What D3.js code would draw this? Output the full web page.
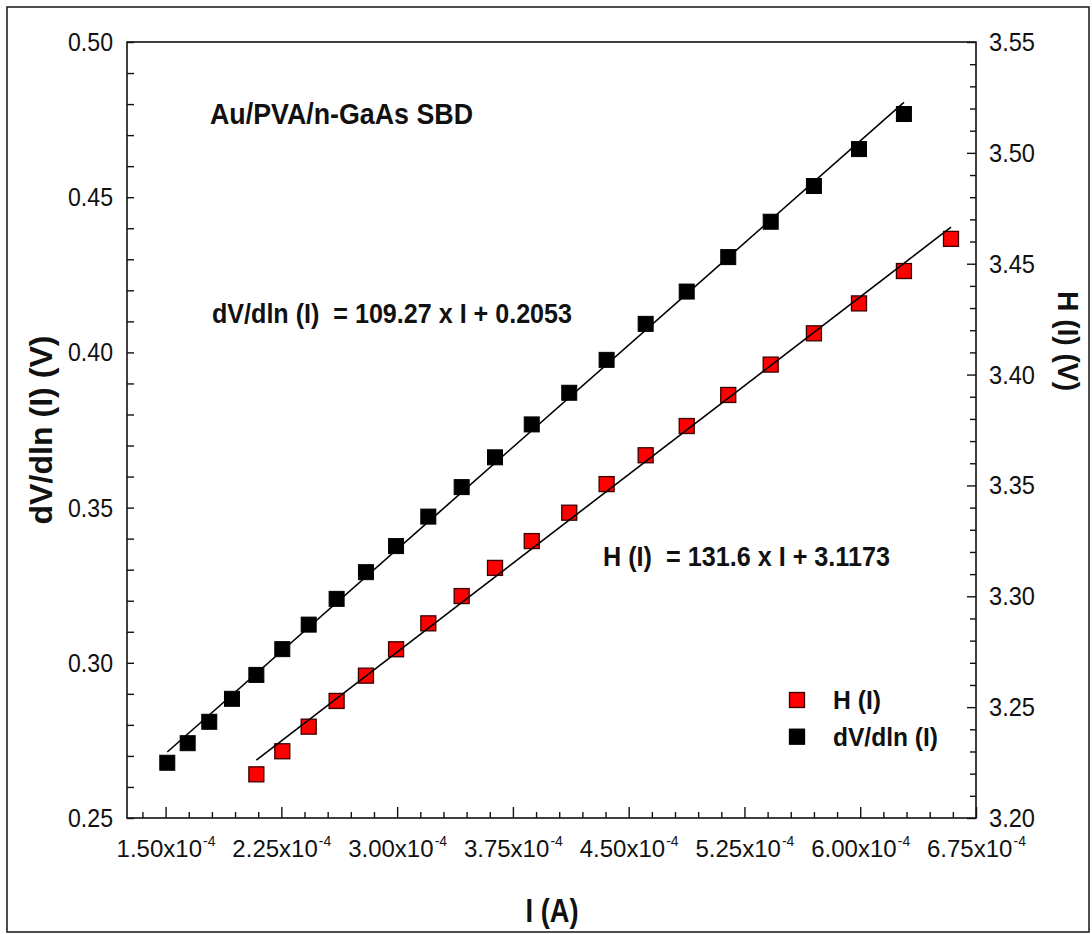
<!DOCTYPE html>
<html>
<head>
<meta charset="utf-8">
<script src="https://cdn.jsdelivr.net/npm/d3@7"></script>
<style>
  html, body { margin: 0; padding: 0; background: #fff; }
  svg { display: block; font-family: "Liberation Sans", Arial, Helvetica, sans-serif; }
  text { fill: #111; white-space: pre; }
</style>
</head>
<body>
<svg id="chart" width="1092" height="934"></svg>
<script>
// Current (A) and differential voltage dV/dln(I) (V), left axis
const currentDV = [1.511e-4, 1.643e-4, 1.783e-4, 1.930e-4, 2.088e-4, 2.256e-4, 2.427e-4, 2.608e-4,
  2.798e-4, 2.993e-4, 3.202e-4, 3.418e-4, 3.634e-4, 3.872e-4, 4.115e-4, 4.357e-4, 4.610e-4,
  4.876e-4, 5.145e-4, 5.420e-4, 5.700e-4, 5.992e-4, 6.283e-4];
const dVdlnI = [0.2678, 0.2741, 0.2810, 0.2884, 0.2961, 0.3044, 0.3123, 0.3206,
  0.3292, 0.3376, 0.3471, 0.3566, 0.3662, 0.3768, 0.3870, 0.3976, 0.4092,
  0.4196, 0.4307, 0.4421, 0.4536, 0.4655, 0.4768];

// Current (A) and Norde-type function H(I) (V), right axis
const currentH = [2.088e-4, 2.256e-4, 2.427e-4, 2.608e-4, 2.798e-4, 2.993e-4, 3.202e-4, 3.418e-4,
  3.634e-4, 3.872e-4, 4.115e-4, 4.357e-4, 4.610e-4, 4.876e-4, 5.145e-4, 5.420e-4,
  5.700e-4, 5.992e-4, 6.283e-4, 6.588e-4];
const hI = [3.2197, 3.2301, 3.2412, 3.2528, 3.2642, 3.2761, 3.2878, 3.3001,
  3.3128, 3.3249, 3.3377, 3.3506, 3.3636, 3.3768, 3.3908, 3.4045,
  3.4186, 3.4321, 3.4467, 3.4612];

// Tick values and labels
const xMajorTicks = [1.50e-4, 2.25e-4, 3.00e-4, 3.75e-4, 4.50e-4, 5.25e-4, 6.00e-4, 6.75e-4];
const xTickMantissas = ["1.50", "2.25", "3.00", "3.75", "4.50", "5.25", "6.00", "6.75"];
const xTickExponent = "-4";
const leftTicks = [0.25, 0.30, 0.35, 0.40, 0.45, 0.50];
const leftTickLabels = ["0.25", "0.30", "0.35", "0.40", "0.45", "0.50"];
const rightTicks = [3.20, 3.25, 3.30, 3.35, 3.40, 3.45, 3.50, 3.55];
const rightTickLabels = ["3.20", "3.25", "3.30", "3.35", "3.40", "3.45", "3.50", "3.55"];

// Text
const titleText = "Au/PVA/n-GaAs SBD";
const fitLabelDV = "dV/dln (I)  = 109.27 x I + 0.2053";
const fitLabelH = "H (I)  = 131.6 x I + 3.1173";
const legendLabels = ["H (I)", "dV/dln (I)"];
const xTitle = "I (A)";
const yLeftTitle = "dV/dln (I) (V)";
const yRightTitle = "H (I) (V)";

// ---- layout ----
const plot = { left: 127, right: 976, top: 42, bottom: 818 };
const svg = d3.select("#chart");
const ink = "#111";

const x = d3.scaleLinear().domain([1.25e-4, 6.75e-4]).range([plot.left, plot.right]);
const yL = d3.scaleLinear().domain([0.25, 0.50]).range([plot.bottom, plot.top]);
const yR = d3.scaleLinear().domain([3.20, 3.55]).range([plot.bottom, plot.top]);

// outer frame
svg.append("rect")
  .attr("x", 7).attr("y", 7).attr("width", 1082).attr("height", 925)
  .attr("fill", "none").attr("stroke", "#222").attr("stroke-width", 1.6);

// tick sets
const xMinor = d3.range(-1, 36).map(k => 1.50e-4 + k * 0.15e-4).filter((v, i) => (i - 1) % 5 !== 0);
const leftMinor = d3.range(0, 26).map(k => 0.25 + k * 0.01);
const rightMinor = d3.range(0, 36).map(k => 3.20 + k * 0.01).filter((v, k) => k % 5 !== 0);

function styleAxis(g) {
  g.select(".domain").remove();
  g.selectAll(".tick line").attr("stroke", ink).attr("stroke-width", 1.4);
  g.selectAll(".tick text").remove();
}

svg.append("g").attr("transform", `translate(0,${plot.bottom})`)
  .call(d3.axisBottom(x).tickValues(xMinor).tickSize(-6).tickFormat(""))
  .call(styleAxis);
svg.append("g").attr("transform", `translate(0,${plot.bottom})`)
  .call(d3.axisBottom(x).tickValues(xMajorTicks).tickSize(-11).tickFormat(""))
  .call(styleAxis);
svg.append("g").attr("transform", `translate(${plot.left},0)`)
  .call(d3.axisLeft(yL).tickValues(leftMinor).tickSize(-7).tickFormat(""))
  .call(styleAxis);
svg.append("g").attr("transform", `translate(${plot.right},0)`)
  .call(d3.axisRight(yR).tickValues(rightMinor).tickSize(-6).tickFormat(""))
  .call(styleAxis);
svg.append("g").attr("transform", `translate(${plot.right},0)`)
  .call(d3.axisRight(yR).tickValues(rightTicks).tickSize(-9).tickFormat(""))
  .call(styleAxis);

// plot box
svg.append("rect")
  .attr("x", plot.left).attr("y", plot.top)
  .attr("width", plot.right - plot.left).attr("height", plot.bottom - plot.top)
  .attr("fill", "none").attr("stroke", ink).attr("stroke-width", 1.6);

// bottom tick labels: mantissa "x10" with a raised exponent, centred on the tick
const xLabels = svg.append("g");
xMajorTicks.forEach((t, i) => {
  const cx = x(t);
  xLabels.append("text")
    .attr("x", cx - 49).attr("y", 857)
    .attr("text-anchor", "start").attr("font-size", 24)
    .text(xTickMantissas[i] + "x10");
  xLabels.append("text")
    .attr("x", cx + 37.5).attr("y", 846)
    .attr("text-anchor", "start").attr("font-size", 14)
    .text(xTickExponent);
});

svg.append("g").selectAll("text").data(leftTicks).join("text")
  .attr("x", 113).attr("y", d => yL(d)).attr("dy", "0.36em")
  .attr("text-anchor", "end").attr("font-size", 25)
  .attr("textLength", 45).attr("lengthAdjust", "spacingAndGlyphs")
  .text((d, i) => leftTickLabels[i]);

svg.append("g").selectAll("text").data(rightTicks).join("text")
  .attr("x", 989).attr("y", d => yR(d)).attr("dy", "0.36em")
  .attr("text-anchor", "start").attr("font-size", 25)
  .attr("textLength", 46).attr("lengthAdjust", "spacingAndGlyphs")
  .text((d, i) => rightTickLabels[i]);

// axis titles
svg.append("text").attr("x", 552).attr("y", 922)
  .attr("text-anchor", "middle").attr("font-weight", "bold").attr("font-size", 34)
  .attr("textLength", 53).attr("lengthAdjust", "spacingAndGlyphs")
  .text(xTitle);
svg.append("text")
  .attr("transform", `translate(52,${(plot.top + plot.bottom) / 2}) rotate(-90)`)
  .attr("text-anchor", "middle").attr("font-weight", "bold").attr("font-size", 31)
  .attr("textLength", 189).attr("lengthAdjust", "spacingAndGlyphs")
  .text(yLeftTitle);
svg.append("text")
  .attr("transform", `translate(1058,341) rotate(90)`)
  .attr("text-anchor", "middle").attr("font-weight", "bold").attr("font-size", 30)
  .attr("textLength", 100).attr("lengthAdjust", "spacingAndGlyphs")
  .text(yRightTitle);

// least-squares fit
function linFit(xs, ys) {
  const mx = d3.mean(xs), my = d3.mean(ys);
  let sxy = 0, sxx = 0;
  xs.forEach((v, i) => { sxy += (v - mx) * (ys[i] - my); sxx += (v - mx) * (v - mx); });
  const slope = sxy / sxx;
  return { slope, intercept: my - slope * mx };
}

const size = 15;
const dvPts = currentDV.map((c, i) => ({ c, v: dVdlnI[i] }));
const hPts = currentH.map((c, i) => ({ c, v: hI[i] }));

svg.append("g").selectAll("rect").data(dvPts).join("rect")
  .attr("x", d => x(d.c) - size / 2).attr("y", d => yL(d.v) - size / 2)
  .attr("width", size).attr("height", size)
  .attr("fill", "#000").attr("stroke", "#000").attr("stroke-width", 1);

svg.append("g").selectAll("rect").data(hPts).join("rect")
  .attr("x", d => x(d.c) - size / 2).attr("y", d => yR(d.v) - size / 2)
  .attr("width", size).attr("height", size)
  .attr("fill", "#ff0000").attr("stroke", "#3a0000").attr("stroke-width", 1.3);

function drawFit(xs, ys, yScale) {
  const f = linFit(xs, ys);
  const ends = [d3.min(xs), d3.max(xs)];
  svg.append("path")
    .datum(ends)
    .attr("d", d3.line().x(c => x(c)).y(c => yScale(f.intercept + f.slope * c)))
    .attr("fill", "none").attr("stroke", "#000").attr("stroke-width", 1.6);
}
drawFit(currentDV, dVdlnI, yL);
drawFit(currentH, hI, yR);

// annotations
svg.append("text").attr("x", 210).attr("y", 124)
  .attr("font-weight", "bold").attr("font-size", 29)
  .attr("textLength", 263).attr("lengthAdjust", "spacingAndGlyphs")
  .text(titleText);
svg.append("text").attr("x", 212).attr("y", 323)
  .attr("font-weight", "bold").attr("font-size", 28)
  .attr("textLength", 360).attr("lengthAdjust", "spacingAndGlyphs")
  .text(fitLabelDV);
svg.append("text").attr("x", 603).attr("y", 566)
  .attr("font-weight", "bold").attr("font-size", 28)
  .attr("textLength", 287).attr("lengthAdjust", "spacingAndGlyphs")
  .text(fitLabelH);

// legend
const legendFill = ["#ff0000", "#000"];
const legendStroke = ["#3a0000", "#000"];
const legendWidths = [48, 105];
const legend = svg.append("g");
legendLabels.forEach((lab, i) => {
  const cy = 700 + i * 36.7;
  legend.append("rect")
    .attr("x", 797 - size / 2).attr("y", cy - size / 2)
    .attr("width", size).attr("height", size)
    .attr("fill", legendFill[i]).attr("stroke", legendStroke[i]).attr("stroke-width", 1.3);
  legend.append("text").attr("x", 833).attr("y", cy + 9)
    .attr("font-weight", "bold").attr("font-size", 26)
    .attr("textLength", legendWidths[i]).attr("lengthAdjust", "spacingAndGlyphs")
    .text(lab);
});
</script>
</body>
</html>
